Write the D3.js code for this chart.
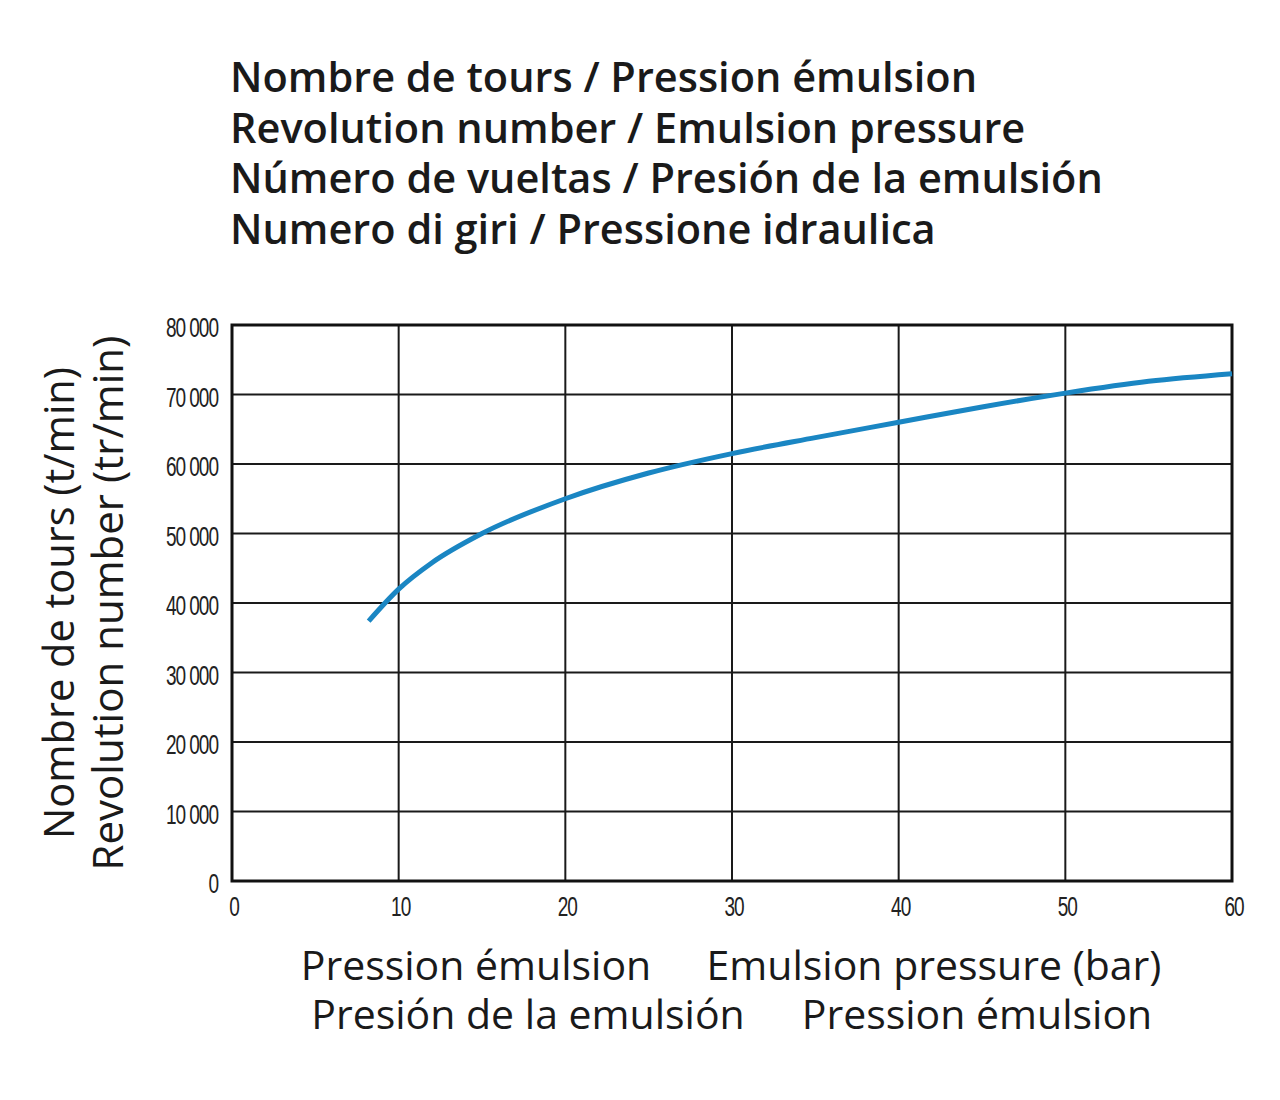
<!DOCTYPE html>
<html><head><meta charset="utf-8">
<script src="https://cdn.jsdelivr.net/npm/d3@7/dist/d3.min.js"></script>
<style>
body{margin:0;background:#fff;}
svg{display:block;}
</style></head>
<body><svg id="c" width="1280" height="1100"></svg>
<script>
const titleLines = [
  "Nombre de tours / Pression émulsion",
  "Revolution number / Emulsion pressure",
  "Número de vueltas / Presión de la emulsión",
  "Numero di giri / Pressione idraulica"
];
const yTitleLines = ["Nombre de tours (t/min)", "Revolution number (tr/min)"];
const xTitleLeft = ["Pression émulsion", "Presión de la emulsión"];
const xTitleRight = ["Emulsion pressure (bar)", "Pression émulsion"];
const xTicks = [0, 10, 20, 30, 40, 50, 60];
const yTicks = [0, 10000, 20000, 30000, 40000, 50000, 60000, 70000, 80000];
const pressure = [8.2, 10, 12, 15, 20, 25, 30, 35, 40, 45, 50, 55, 60];
const rpm = [37400, 42000, 45800, 50000, 55000, 58700, 61500, 63800, 66000, 68200, 70200, 71900, 73000];

const svg = d3.select("#c");
const m = {l: 232, r: 1232, t: 325, b: 881};
const x = d3.scaleLinear().domain([0, 60]).range([m.l, m.r]);
const y = d3.scaleLinear().domain([0, 80000]).range([m.b, m.t]);

// titles
svg.append("g").selectAll("text").data(titleLines).join("text")
  .attr("x", 230).attr("y", (d, i) => 92 + i * 50.5)
  .attr("font-family", "'Open Sans', sans-serif").attr("font-weight", 600)
  .attr("font-size", 41.5).attr("letter-spacing", 0).attr("fill", "#1a1a1a").text(d => d);

// grid
const g = svg.append("g");
g.selectAll(".vg").data(xTicks.slice(1, -1)).join("line")
  .attr("x1", d => x(d)).attr("x2", d => x(d)).attr("y1", m.t).attr("y2", m.b)
  .attr("stroke", "#1a1a1a").attr("stroke-width", 2);
g.selectAll(".hg").data(yTicks.slice(1, -1)).join("line")
  .attr("x1", m.l).attr("x2", m.r).attr("y1", d => y(d)).attr("y2", d => y(d))
  .attr("stroke", "#1a1a1a").attr("stroke-width", 2);

// frame
g.append("rect").attr("x", m.l).attr("y", m.t).attr("width", m.r - m.l).attr("height", m.b - m.t)
  .attr("fill", "none").attr("stroke", "#111").attr("stroke-width", 3);

// axes
const tickFont = "'Liberation Sans', Arial, sans-serif";
const sx = 0.68;
const ya = svg.append("g").attr("transform", `translate(${m.l},0)`)
  .call(d3.axisLeft(y).tickValues(yTicks).tickSize(0)
    .tickFormat(d => d === 0 ? "0" : d3.format(",")(d).replace(",", " ")));
ya.select(".domain").remove();
ya.selectAll("text").attr("font-family", tickFont).attr("font-size", 28).attr("fill", "#222")
  .attr("letter-spacing", -1.5).attr("x", -14 / sx).attr("dy", "0.42em")
  .attr("transform", `scale(${sx},1)`);

const xa = svg.append("g").attr("transform", `translate(0,${m.b})`)
  .call(d3.axisBottom(x).tickValues(xTicks).tickSize(0));
xa.select(".domain").remove();
xa.selectAll("text").attr("font-family", tickFont).attr("font-size", 28).attr("fill", "#222")
  .attr("letter-spacing", -1.5).attr("y", 35).attr("dy", 0)
  .attr("transform", `scale(${sx},1)`);
xa.selectAll(".tick").attr("transform", d => `translate(${x(d) + 2},0)`);

// curve
const line = d3.line().x((d, i) => x(pressure[i])).y(d => y(d)).curve(d3.curveMonotoneX);
svg.append("path").datum(rpm).attr("d", line).attr("fill", "none")
  .attr("stroke", "#1a86c3").attr("stroke-width", 5).attr("stroke-linecap", "butt");

// y title
const yt = svg.append("g");
yt.selectAll("text").data(yTitleLines).join("text")
  .attr("transform", (d, i) => `translate(${74 + i * 49},${603}) rotate(-90)`)
  .attr("text-anchor", "middle")
  .attr("font-family", "'Open Sans', sans-serif").attr("font-weight", 400)
  .attr("font-size", (d, i) => i === 0 ? 41.5 : 42).attr("fill", "#1a1a1a").text(d => d);

// x titles
const xf = "'Open Sans', sans-serif";
svg.append("g").selectAll("text").data(xTitleLeft).join("text")
  .attr("x", (d, i) => i === 0 ? 476 : 528).attr("y", (d, i) => 980 + i * 49).attr("text-anchor", "middle")
  .attr("font-family", xf).attr("font-size", 41).attr("fill", "#1a1a1a").text(d => d);
svg.append("g").selectAll("text").data(xTitleRight).join("text")
  .attr("x", (d, i) => i === 0 ? 934 : 977).attr("y", (d, i) => 980 + i * 49).attr("text-anchor", "middle")
  .attr("font-family", xf).attr("font-size", 41).attr("fill", "#1a1a1a").text(d => d);
</script></body></html>
